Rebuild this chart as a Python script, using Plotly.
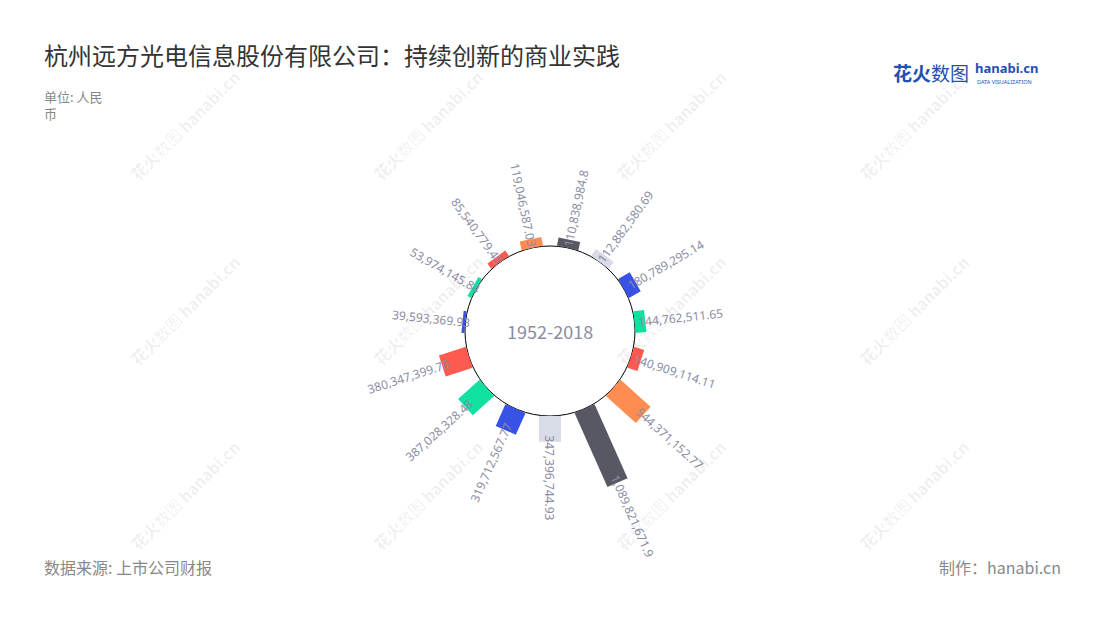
import math
import plotly.graph_objects as go

# ---------------- data ----------------
categories = ["1", "2", "3", "4", "5", "6", "7", "8", "9", "10", "11", "12", "13", "14", "15"]
values = [110838984.8, 112882580.69, 180789295.14, 144762511.65, 140909114.11,
          544371152.77, 1089821671.9, 347396744.93, 319712567.77, 387028328.48,
          380347399.76, 39593369.93, 53974145.84, 85540779.45, 119046587.03]
bar_colors = ["#585864", "#D8DCE6", "#3852E6", "#10E0A0", "#FF5A50",
              "#FF8C50", "#585864", "#D8DCE6", "#3852E6", "#10E0A0",
              "#FF5A50", "#3852E6", "#10E0A0", "#FF5A50", "#FF8C50"]
center_label = "1952-2018"
title_text = "杭州远方光电信息股份有限公司：持续创新的商业实践"
unit_lines = ["单位: 人民", "币"]
source_text = "数据来源: 上市公司财报"
maker_text = "制作：hanabi.cn"


def fmt(v):
    s = f"{v:,.2f}"
    return s.rstrip("0").rstrip(".")


labels = [fmt(v) for v in values]

# ---------------- geometry ----------------
W, H = 1100, 620
PAGE = 8                   # default page margin around the plot div


def PX(px):
    return (px - PAGE) / W


def PY(py):
    return 1 - (py - PAGE) / H


CX, CY = 550, 331          # centre of the polar area (page px)
R_HOLE = 85                # radius of the inner circle (px)
R_OUT = 170                # outer radius of the polar area (px)
vmax = max(values)
PX_PER_UNIT = 81 / vmax    # longest bar is 81 px
r_lo = -R_HOLE / PX_PER_UNIT
r_hi = (R_OUT - R_HOLE) / PX_PER_UNIT
n = len(categories)
STEP = 360 / n
ROT = 90 - STEP / 2        # first category half a step clockwise from north
BAR_PX = 22                # bar thickness in px

LABEL_SIZE = 12
LABEL_COLOR = "#8B8DA3"
LABEL_FONT = "Noto Sans"


def text_width(s, size=LABEL_SIZE):
    w = 0.0
    for ch in s:
        if ch.isdigit():
            w += 0.572
        elif ch == ",":
            w += 0.258
        elif ch == ".":
            w += 0.268
        else:
            w += 0.5
    return w * size


fig = go.Figure()
# each bar: a straight radial band from the base (0) to its value
for cat, v, col in zip(categories, values, bar_colors):
    fig.add_trace(go.Scatterpolar(
        r=[0, v],
        theta=[cat, cat],
        mode="lines",
        line=dict(color=col, width=BAR_PX),
        hoverinfo="skip",
        showlegend=False,
    ))

annotations = []
# value labels, oriented along the radius
for k, (v, lab) in enumerate(zip(values, labels)):
    th = (90 - ROT) + k * STEP          # degrees clockwise from north
    r_end = R_HOLE + v * PX_PER_UNIT
    r_start = r_end - 8
    L = text_width(lab)
    rc = r_start + L / 2 + 1
    t = math.radians(th)
    px = CX + rc * math.sin(t)
    py = CY - rc * math.cos(t)
    ang = th - 90 if th <= 180 else th - 270
    annotations.append(dict(
        x=PX(px), y=PY(py), xref="paper", yref="paper",
        text=lab, showarrow=False, textangle=ang,
        xanchor="center", yanchor="middle",
        font=dict(family=LABEL_FONT, size=LABEL_SIZE, color=LABEL_COLOR),
    ))

# centre text
annotations.append(dict(
    x=PX(CX), y=PY(CY), xref="paper", yref="paper",
    text=center_label, showarrow=False, xanchor="center", yanchor="middle",
    font=dict(family="Noto Sans CJK SC", size=18, color="#8B8DA3"),
))

# watermarks
for wx in [185, 428, 671, 914]:
    for wy in [125, 310, 495]:
        annotations.append(dict(
            x=PX(wx), y=PY(wy), xref="paper", yref="paper",
            text="<b>花火</b>数图 <b>hanabi.cn</b>", showarrow=False, textangle=-45,
            xanchor="center", yanchor="middle",
            font=dict(family="Noto Sans CJK SC", size=16, color="rgba(0,0,0,0.07)"),
        ))

# title and notes
annotations += [
    dict(x=PX(42), y=PY(54), xref="paper", yref="paper", text=title_text,
         showarrow=False, xanchor="left", yanchor="middle",
         font=dict(family="Noto Sans CJK SC", size=24, color="#333333")),
    dict(x=PX(42), y=PY(96), xref="paper", yref="paper", text=unit_lines[0],
         showarrow=False, xanchor="left", yanchor="middle",
         font=dict(family="Noto Sans CJK SC", size=13, color="#888888")),
    dict(x=PX(42), y=PY(114), xref="paper", yref="paper", text=unit_lines[1],
         showarrow=False, xanchor="left", yanchor="middle",
         font=dict(family="Noto Sans CJK SC", size=13, color="#888888")),
    dict(x=PX(42), y=PY(567), xref="paper", yref="paper", text=source_text,
         showarrow=False, xanchor="left", yanchor="middle",
         font=dict(family="Noto Sans CJK SC", size=16, color="#888888")),
    dict(x=PX(1063), y=PY(567), xref="paper", yref="paper", text=maker_text,
         showarrow=False, xanchor="right", yanchor="middle",
         font=dict(family="Noto Sans CJK SC", size=16, color="#888888")),
    # logo
    dict(x=PX(891), y=PY(72), xref="paper", yref="paper", text="<b>花火</b>数图",
         showarrow=False, xanchor="left", yanchor="middle",
         font=dict(family="Noto Sans CJK SC", size=19, color="#2350B4")),
    dict(x=PX(973), y=PY(68), xref="paper", yref="paper", text="<b>hanabi.cn</b>",
         showarrow=False, xanchor="left", yanchor="middle",
         font=dict(family="Noto Sans", size=13, color="#2350B4")),
    dict(x=PX(975), y=PY(82), xref="paper", yref="paper", text="DATA VISUALIZATION",
         showarrow=False, xanchor="left", yanchor="middle",
         font=dict(family="Noto Sans", size=5.5, color="#2350B4")),
]

fig.update_layout(
    width=W, height=H,
    margin=dict(l=0, r=0, t=0, b=0),
    paper_bgcolor="white", plot_bgcolor="white",
    showlegend=False,
    polar=dict(
        domain=dict(x=[PX(CX - R_OUT), PX(CX + R_OUT)],
                    y=[PY(CY + R_OUT), PY(CY - R_OUT)]),
        bgcolor="white",
        radialaxis=dict(range=[r_lo, r_hi], tickvals=[0], showticklabels=False,
                        ticks="", showline=False, showgrid=True,
                        gridcolor="#000000", gridwidth=1),
        angularaxis=dict(type="category", categoryarray=categories,
                         rotation=ROT, direction="clockwise",
                         showgrid=False, showline=False, showticklabels=False,
                         ticks=""),
    ),
    annotations=annotations,
)

fig.write_html("out.html")
